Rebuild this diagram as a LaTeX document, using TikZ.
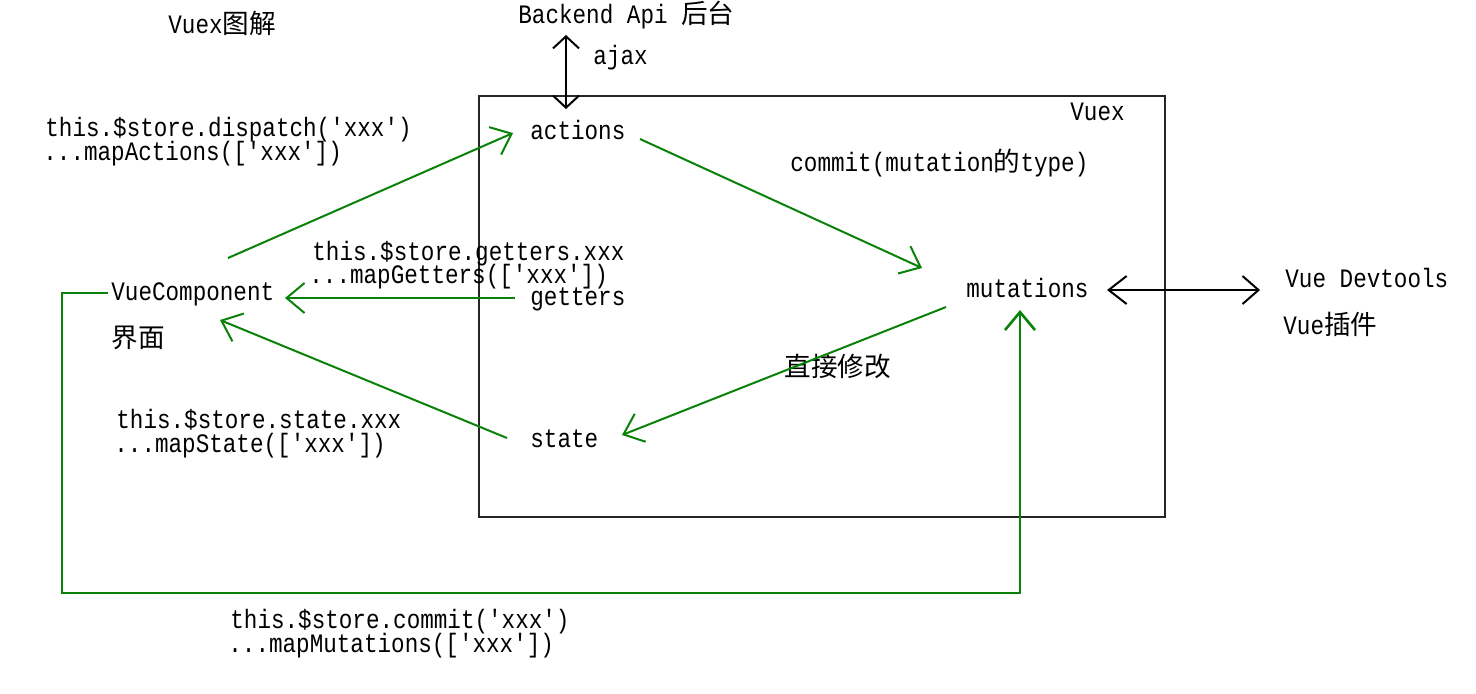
\documentclass[tikz,border=0pt]{standalone}
\usepackage{fontspec}
\setmonofont{Liberation Mono}[FakeStretch=0.85]
\newfontfamily\zh{Noto Sans CJK SC}
\usetikzlibrary{arrows.meta,calc}
\definecolor{vgreen}{RGB}{10,130,10}
\begin{document}
\begin{tikzpicture}[x=0.5pt,y=-0.5pt,
  lbl/.style={anchor=mid west, inner sep=0pt, yshift=-1.5pt, font=\ttfamily\fontsize{13.3}{16}\selectfont},
  garrow/.style={draw=vgreen, line width=1pt, -{Straight Barb[length=9pt,width=15pt]}},
  barrow/.style={draw=black, line width=1pt, {Straight Barb[length=6pt,width=13pt]}-{Straight Barb[length=6pt,width=13pt]}},
  darrow/.style={draw=black, line width=1pt, {Straight Barb[length=9pt,width=14pt]}-{Straight Barb[length=8pt,width=14pt]}}]
\useasboundingbox (0,0) rectangle (1476,693);
\fill[white] (0,0) rectangle (1476,693);

% Vuex box
\node[draw=black!85, line width=0.6pt, minimum width=343pt, minimum height=210.5pt, inner sep=0pt] (vuexbox) at (822,306.5) {};

% labels
\node[lbl] (title) at (168,26) {Vuex{\zh 图解}};
\node[lbl] (backend) at (518,16) {Backend Api {\zh 后台}};
\node[lbl] (ajax) at (593,57) {ajax};
\node[lbl] (vuexlbl) at (1070,113) {Vuex};
\node[lbl] (act) at (530,132) {actions};
\node[lbl] (dispatch1) at (45,129) {this.\$store.dispatch('xxx')};
\node[lbl] (dispatch2) at (43,153) {...mapActions(['xxx'])};
\node[lbl] (commitlbl) at (790,164) {commit(mutation{\zh 的}type)};
\node[lbl] (getters1) at (312,253) {this.\$store.getters.xxx};
\node[lbl] (getters2) at (309,276) {...mapGetters(['xxx'])};
\node[lbl] (vc) at (111,293) {VueComponent};
\node[lbl] (get) at (530,298) {getters};
\node[lbl] (mut) at (966,290) {mutations};
\node[lbl] (devtools) at (1285,280) {Vue Devtools};
\node[lbl] (plugin) at (1283,327) {Vue{\zh 插件}};
\node[lbl] (jiemian) at (111,340) {{\zh 界面}};
\node[lbl] (zhijie) at (784,369) {{\zh 直接修改}};
\node[lbl] (state1) at (116,421) {this.\$store.state.xxx};
\node[lbl] (state2) at (114,445) {...mapState(['xxx'])};
\node[lbl] (st) at (530,440) {state};
\node[lbl] (commit1) at (230,621) {this.\$store.commit('xxx')};
\node[lbl] (commit2) at (228,645) {...mapMutations(['xxx'])};

% connector end points
\coordinate (ajaxtop) at (566,35);
\coordinate (ajaxbot) at (566,109);
\coordinate (devL) at (1107,290);
\coordinate (devR) at (1260,290);
\coordinate (vcA) at (228,258);
\coordinate (actIn) at (513,133);
\coordinate (actOut) at (640,139);
\coordinate (mutIn) at (922,268);
\coordinate (getOut) at (515,298);
\coordinate (vcG) at (285,298);
\coordinate (mutOut) at (946,307);
\coordinate (stIn) at (622,435);
\coordinate (stOut) at (507,438);
\coordinate (vcS) at (220,320);
\coordinate (vcL) at (108,293);
\coordinate (mutB) at (1020,310);

% black arrows
\draw[barrow] (ajaxtop) -- (ajaxbot);
\draw[darrow] (devL) -- (devR);

% green arrows
\draw[garrow] (vcA) -- (actIn);
\draw[garrow] (actOut) -- (mutIn);
\draw[garrow] (getOut) -- (vcG);
\draw[garrow] (mutOut) -- (stIn);
\draw[garrow] (stOut) -- (vcS);
\draw[garrow, line width=1.3pt] (vcL) -- (62,293) -- (62,593) -- (1020,593) -- (mutB);
\end{tikzpicture}
\end{document}
